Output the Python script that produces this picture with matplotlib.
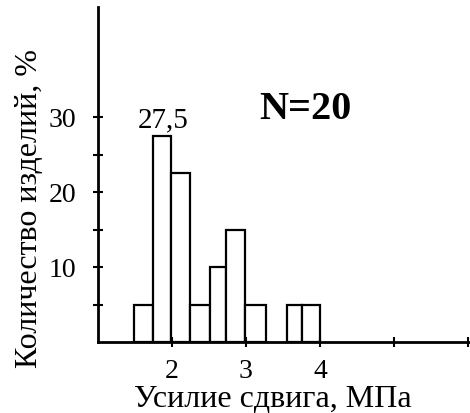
import matplotlib.pyplot as plt

# histogram data
left_edges = [1.49, 1.74, 1.99, 2.24, 2.51, 2.73, 2.99, 3.55, 3.75]
right_edges = [1.74, 1.99, 2.24, 2.51, 2.73, 2.99, 3.27, 3.75, 4.0]
percent = [5, 27.5, 22.5, 5, 10, 15, 5, 5, 5]

x_ticks = [2, 3, 4, 5, 6]
x_tick_labels = ['2', '3', '4', '', '']
y_ticks = [5, 10, 15, 20, 25, 30]
y_tick_labels = ['', '10', '', '20', '', '30']

plt.rcParams['font.family'] = ['Liberation Serif', 'DejaVu Serif']

fig = plt.figure(figsize=(4.7, 4.14), dpi=100)
ax = fig.add_axes([98 / 470, 71 / 414, 1 - 98 / 470, (343 - 8) / 414])

widths = [r - l for l, r in zip(left_edges, right_edges)]
ax.bar(left_edges, percent, width=widths, align='edge',
       color='white', edgecolor='black', linewidth=1.6)

ax.set_xlim(1, 1 + (470 - 98) / 74)
ax.set_ylim(0, (343 - 8) / 7.5)

for s in ['top', 'right']:
    ax.spines[s].set_visible(False)
for s in ['left', 'bottom']:
    ax.spines[s].set_linewidth(2)

ax.set_xticks(x_ticks)
ax.set_xticklabels(x_tick_labels, fontsize=20)
ax.set_yticks(y_ticks)
ax.set_yticklabels(y_tick_labels, fontsize=20)
ax.tick_params(direction='inout', length=7, width=1.5)
ax.tick_params(axis='x', pad=8)
ax.tick_params(axis='y', pad=12)

ax.set_xlabel('Усилие сдвига, МПа', fontsize=23)
ax.xaxis.set_label_coords((273 - 98) / 372, -(400 - 343) / 335)
ax.xaxis.label.set_va('center')
ax.set_ylabel('Количество изделий, %', fontsize=23)
ax.yaxis.set_label_coords(-(98 - 30) / 372, (343 - 209) / 335)
ax.yaxis.label.set_va('center')

ax.text(1.88, 28.8, '27,5', fontsize=21, ha='center', va='baseline')
ax.text(3.80, 31.1, 'N=20', fontsize=29, fontweight='bold', ha='center', va='center')

fig.savefig('out.png', dpi=100)
